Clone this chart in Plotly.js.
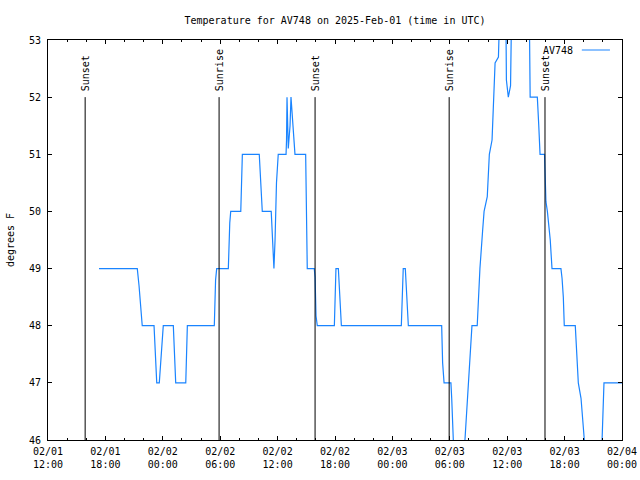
<!DOCTYPE html>
<html>
<head>
<meta charset="utf-8">
<script src="https://cdn.plot.ly/plotly-3.0.1.min.js"></script>
<style>html,body{margin:0;padding:0;background:#fff;}#chart{width:640px;height:480px;}</style>
</head>
<body>
<div id="chart"></div>
<script>
// ---- data ----
const seriesName = "AV748";
const times = [
"2025-02-01 17:20","2025-02-01 21:20","2025-02-01 21:31","2025-02-01 21:45","2025-02-01 21:51",
"2025-02-01 23:05","2025-02-01 23:17","2025-02-01 23:22","2025-02-01 23:38","2025-02-01 23:46",
"2025-02-02 00:03","2025-02-02 01:06","2025-02-02 01:13","2025-02-02 01:21","2025-02-02 02:24",
"2025-02-02 02:34","2025-02-02 05:23","2025-02-02 05:31","2025-02-02 05:38","2025-02-02 06:51",
"2025-02-02 07:00","2025-02-02 07:06","2025-02-02 08:09","2025-02-02 08:14","2025-02-02 08:19",
"2025-02-02 10:05","2025-02-02 10:13","2025-02-02 10:24","2025-02-02 11:20","2025-02-02 11:28",
"2025-02-02 11:37","2025-02-02 11:44","2025-02-02 11:53","2025-02-02 12:04","2025-02-02 12:53",
"2025-02-02 12:56","2025-02-02 12:59","2025-02-02 13:07","2025-02-02 13:18","2025-02-02 13:24",
"2025-02-02 13:33","2025-02-02 13:40","2025-02-02 13:49","2025-02-02 14:56","2025-02-02 15:01",
"2025-02-02 15:04","2025-02-02 15:06","2025-02-02 15:50","2025-02-02 15:55","2025-02-02 16:01",
"2025-02-02 16:09","2025-02-02 17:56","2025-02-02 18:02","2025-02-02 18:06","2025-02-02 18:21",
"2025-02-02 18:28","2025-02-02 18:40","2025-02-03 00:56","2025-02-03 01:03","2025-02-03 01:08",
"2025-02-03 01:21","2025-02-03 01:28","2025-02-03 01:40","2025-02-03 05:09","2025-02-03 05:15",
"2025-02-03 05:24","2025-02-03 06:07","2025-02-03 06:12","2025-02-03 06:22","2025-02-03 06:39",
"2025-02-03 07:23","2025-02-03 07:35","2025-02-03 07:42","2025-02-03 07:50","2025-02-03 08:02",
"2025-02-03 08:19","2025-02-03 08:52","2025-02-03 09:01","2025-02-03 09:09","2025-02-03 09:26",
"2025-02-03 09:35","2025-02-03 09:55","2025-02-03 10:08","2025-02-03 10:25","2025-02-03 10:37",
"2025-02-03 10:44","2025-02-03 11:05","2025-02-03 11:12","2025-02-03 11:52","2025-02-03 11:55",
"2025-02-03 12:07","2025-02-03 12:21","2025-02-03 12:27","2025-02-03 14:19","2025-02-03 14:24",
"2025-02-03 15:09","2025-02-03 15:18","2025-02-03 15:26","2025-02-03 15:54","2025-02-03 15:59",
"2025-02-03 16:03","2025-02-03 16:12","2025-02-03 16:24","2025-02-03 16:30","2025-02-03 16:37",
"2025-02-03 16:41","2025-02-03 17:37","2025-02-03 17:44","2025-02-03 17:52","2025-02-03 17:58",
"2025-02-03 19:07","2025-02-03 19:18","2025-02-03 19:26","2025-02-03 19:43","2025-02-03 19:55",
"2025-02-03 20:06","2025-02-03 20:15","2025-02-03 21:40","2025-02-03 21:55","2025-02-03 21:58",
"2025-02-03 22:01","2025-02-03 22:07","2025-02-04 00:00"
];
const temps = [
49,49,48.7,48.3,48,
48,47.25,47,47,47.3,
48,48,47.5,47,47,
48,48,48.8,49,49,
49.8,50,50,50.6,51,
51,50.5,50,50,49.5,
49,49.5,50.5,51,51,
51.25,52,51.1,51.5,52,
51.6,51.25,51,51,50.3,
49.6,49,49,48.85,48.17,
48,48,48.7,49,49,
48.6,48,48,48.7,49,
49,48.6,48,48,47.35,
47,47,46.73,46,45.6,
45.6,46,46.3,46.8,47.17,
48,48,48.68,49,49.67,
50,50.26,51,51.25,52,
52.6,52.7,53.4,53.4,52.3,
52,52.2,53.4,53.4,52,
52,51.5,51,51,50.5,
50.17,50,49.67,49.5,49.18,
49,49,48.83,48.5,48,
48,47.5,47,46.73,46.32,
46.09,45.6,45.6,46,46.25,
46.73,47,47
];
const eventTimes = ["2025-02-01 15:53","2025-02-02 05:53","2025-02-02 15:55","2025-02-03 05:56","2025-02-03 15:57"];
const eventLabels = ["Sunset","Sunrise","Sunset","Sunrise","Sunset"];
const eventLineTop = 52;
const xTickVals = ["2025-02-01 12:00","2025-02-01 18:00","2025-02-02 00:00","2025-02-02 06:00","2025-02-02 12:00",
  "2025-02-02 18:00","2025-02-03 00:00","2025-02-03 06:00","2025-02-03 12:00","2025-02-03 18:00","2025-02-04 00:00"];
const xTickText = ["02/01<br>12:00","02/01<br>18:00","02/02<br>00:00","02/02<br>06:00","02/02<br>12:00",
  "02/02<br>18:00","02/03<br>00:00","02/03<br>06:00","02/03<br>12:00","02/03<br>18:00","02/04<br>00:00"];
const xRange = ["2025-02-01 12:00","2025-02-04 00:00"];
const yRange = [46,53];

// ---- style ----
const FONT = "DejaVu Sans Mono, Liberation Mono, monospace";
const LINE_COLOR = "#1a84ff";

const trace = {
  x: times, y: temps, type: "scatter", mode: "lines", name: seriesName,
  line: {color: LINE_COLOR, width: 1.2}, showlegend: false, hoverinfo: "skip"
};

const shapes = eventTimes.map(t => ({
  type: "line", xref: "x", yref: "y", x0: t, x1: t, y0: yRange[0], y1: eventLineTop,
  line: {color: "#000", width: 1}, layer: "above"
}));
// legend sample line (gnuplot style: text then sample)
shapes.push({type: "line", xref: "paper", yref: "paper", x0: 0.930, x1: 0.979, y0: 0.975, y1: 0.975,
  line: {color: LINE_COLOR, width: 1}});

const annotations = eventTimes.map((t, i) => ({
  x: t, y: eventLineTop, xref: "x", yref: "y", text: eventLabels[i], textangle: -90,
  showarrow: false, xanchor: "center", yanchor: "bottom", yshift: 4,
  font: {family: FONT, size: 10, color: "#000"}
}));
annotations.push({x: 0.918, y: 0.975, xref: "paper", yref: "paper", text: seriesName, showarrow: false,
  xanchor: "right", yanchor: "middle", font: {family: FONT, size: 10, color: "#000"}});

const layout = {
  width: 640, height: 480,
  margin: {l: 48, r: 18, t: 40, b: 40},
  paper_bgcolor: "#fff", plot_bgcolor: "#fff",
  font: {family: FONT, size: 10, color: "#000"},
  title: {text: "Temperature for AV748 on 2025-Feb-01 (time in UTC)", font: {family: FONT, size: 10, color: "#000"},
    x: 0.5, xref: "paper", xanchor: "center", y: 1 - 20/480, yref: "container", yanchor: "middle"},
  xaxis: {
    type: "date", range: xRange, tickmode: "array", tickvals: xTickVals, ticktext: xTickText,
    ticks: "inside", ticklen: 4, tickwidth: 1, tickcolor: "#000",
    showline: true, linecolor: "#000", linewidth: 1, mirror: "allticks",
    showgrid: false, zeroline: false, tickfont: {family: FONT, size: 10, color: "#000"},
    ticklabelstandoff: 2,
    minor: {tickmode: "linear", tick0: "2025-02-01 12:00", dtick: 7200000, ticks: "inside", ticklen: 2, tickcolor: "#000", showgrid: false}
  },
  yaxis: {
    range: yRange, dtick: 1, tick0: 46, ticks: "inside", ticklen: 4, tickwidth: 1, tickcolor: "#000",
    showline: true, linecolor: "#000", linewidth: 1, mirror: "allticks",
    showgrid: false, zeroline: false, tickfont: {family: FONT, size: 10, color: "#000"},
    ticklabelstandoff: 4,
    title: {text: "degrees F", font: {family: FONT, size: 10, color: "#000"}, standoff: 12}
  },
  shapes: shapes,
  annotations: annotations,
  showlegend: false
};

Plotly.newPlot("chart", [trace], layout, {staticPlot: true, displayModeBar: false});
</script>
</body>
</html>
